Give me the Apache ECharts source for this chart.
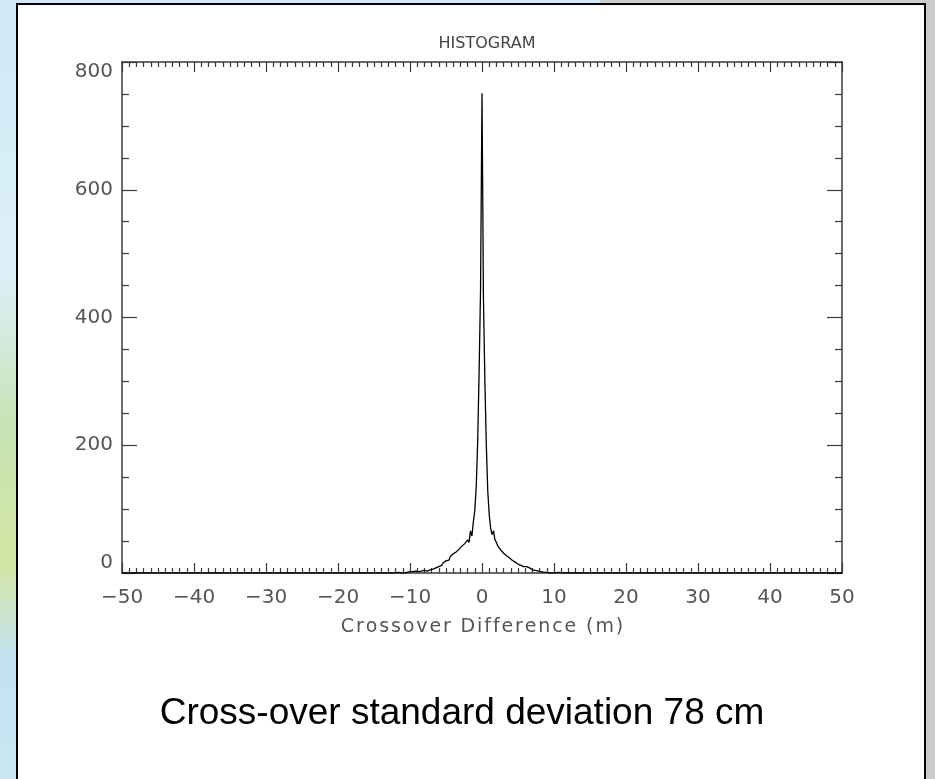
<!DOCTYPE html>
<html>
<head>
<meta charset="utf-8">
<title>Histogram</title>
<script src="https://cdn.jsdelivr.net/npm/echarts@6/dist/echarts.min.js"></script>
<style>
  html, body { margin: 0; padding: 0; }
  body {
    width: 935px; height: 779px; overflow: hidden; position: relative;
    background: linear-gradient(to bottom, #cfe9f7 0%, #dcf0f8 35%, #c6e3b4 55%, #d3e6a4 72%, #c2e1f2 85%, #cbe6f2 100%);
  }
  #rightband { position: absolute; left: 600px; top: 0; width: 335px; height: 779px; background: #cccccc; }
  #panel {
    position: absolute; left: 16px; top: 3px; width: 906px; height: 800px;
    background: #fff; border: 2.5px solid #000;
  }
  #main { position: absolute; left: 0; top: 0; width: 935px; height: 779px; }
</style>
</head>
<body>
<div id="rightband"></div>
<div id="panel"></div>
<div id="main"></div>
<script>
// histogram bins: 0.2 m wide, from -12 m to +12 m
var binStart = -12;
var binWidth = 0.2;
// counts per bin (left tail, peak, right tail)
var countsLeft = [
  0, 0, 1, 0, 0, 1, 0, 1, 1, 0,
  2, 1, 2, 1, 3, 2, 2, 4, 3, 2,
  4, 5, 3, 6, 5, 7, 6, 9, 8, 11,
  10, 13, 12, 16, 14, 19, 22, 20, 26, 24,
  30, 28, 33, 31, 37, 35, 42, 39, 46, 43,
  52, 48, 66, 58, 80, 98, 135, 205, 315, 445
];
var countPeak = 751;
var countsRight = [
  430, 300, 200, 128, 92, 70, 60, 66, 52, 48,
  42, 44, 36, 38, 31, 33, 27, 28, 24, 25,
  20, 21, 17, 18, 14, 15, 12, 13, 10, 9,
  10, 7, 8, 6, 5, 6, 4, 5, 3, 3,
  2, 3, 1, 2, 1, 1, 0, 1, 0, 1,
  0, 0, 1, 0, 0, 0, 0, 0, 0, 0
];
var xTicks = [-50, -40, -30, -20, -10, 0, 10, 20, 30, 40, 50];
var yTicks = [0, 200, 400, 600, 800];

var counts = countsLeft.concat([countPeak], countsRight);
var points = [[-50, 0]];
counts.forEach(function (c, i) {
  points.push([+(binStart + i * binWidth).toFixed(1), c]);
});
points.push([50, 0]);

var axisColor = '#3a3a3a';
var labelColor = '#555';
var fontFam = '"DejaVu Sans", sans-serif';

function minus(v) { return String(v).replace('-', '\u2212'); }
// IDL-style wide lettering
function spaced(s) { return s.split('').join('\u200a'); }

function xAxisCfg(pos, labels) {
  return {
    type: 'value', position: pos, min: xTicks[0], max: xTicks[xTicks.length - 1], interval: 10,
    axisLine: { show: true, onZero: false, lineStyle: { color: axisColor, width: 1.5 } },
    axisTick: { show: true, inside: true, length: 10, lineStyle: { color: axisColor, width: 1.2 } },
    minorTick: { show: true, splitNumber: 10, length: 5, lineStyle: { color: axisColor, width: 1.2 } },
    splitLine: { show: false },
    axisLabel: { show: labels, color: labelColor, fontFamily: fontFam, fontSize: 20, margin: 15, formatter: minus },
    name: labels ? spaced('Crossover Difference (m)') : '',
    nameLocation: 'middle', nameGap: 45, nameMoveOverlap: false,
    nameTextStyle: { color: labelColor, fontFamily: fontFam, fontSize: 19 }
  };
}
function yAxisCfg(pos, labels) {
  return {
    type: 'value', position: pos, min: yTicks[0], max: yTicks[yTicks.length - 1], interval: 200,
    axisLine: { show: true, onZero: false, lineStyle: { color: axisColor, width: 1.5 } },
    axisTick: { show: true, inside: true, length: 15, lineStyle: { color: axisColor, width: 1.2 } },
    minorTick: { show: true, splitNumber: 4, length: 7, lineStyle: { color: axisColor, width: 1.2 } },
    splitLine: { show: false },
    axisLabel: {
      show: labels, color: labelColor, fontFamily: fontFam, fontSize: 20, margin: 9,
      verticalAlignMaxLabel: 'top', verticalAlignMinLabel: 'bottom'
    }
  };
}

var chart = echarts.init(document.getElementById('main'));
chart.setOption({
  animation: false,
  title: [
    { text: 'HISTOGRAM', left: 482, top: 31, textAlign: 'center',
      textStyle: { color: '#444', fontFamily: fontFam, fontSize: 16, fontWeight: 'normal' } },
    { text: 'Cross-over standard deviation 78 cm', left: 457, top: 690, textAlign: 'center',
      textStyle: { color: '#000', fontFamily: '"Liberation Sans", Arial, sans-serif', fontSize: 37, fontWeight: 'normal' } }
  ],
  grid: { left: 122, right: 93, top: 62, bottom: 206, containLabel: false },
  xAxis: [xAxisCfg('bottom', true), xAxisCfg('top', false)],
  yAxis: [yAxisCfg('left', true), yAxisCfg('right', false)],
  series: [{
    type: 'line',
    xAxisIndex: 0, yAxisIndex: 0,
    data: points,
    showSymbol: false,
    lineStyle: { color: '#000', width: 1.3 },
    z: 3
  }]
});
</script>
</body>
</html>
